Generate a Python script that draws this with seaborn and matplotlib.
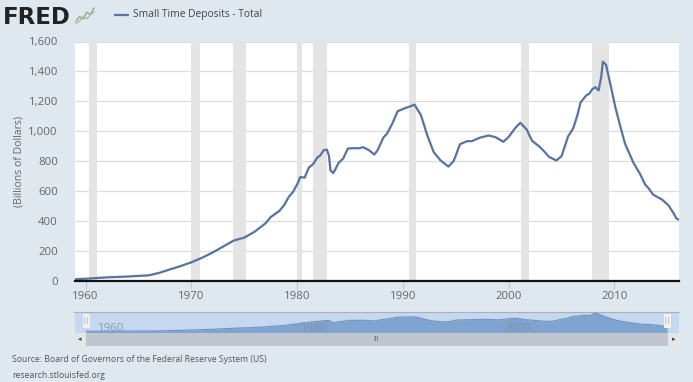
import matplotlib
matplotlib.use('Agg')
import matplotlib.pyplot as plt
import pandas as pd
import seaborn as sns
from matplotlib.patches import Rectangle

years = [1959, 1960, 1961, 1962, 1964, 1966, 1967, 1968, 1969, 1970, 1971, 1972, 1973, 1974, 1975,
         1976, 1977, 1977.5, 1978.3, 1978.75, 1979.2, 1979.6, 1980, 1980.3, 1980.7, 1981.1, 1981.5,
         1981.9, 1982.2, 1982.5, 1982.8, 1983, 1983.15, 1983.4, 1983.6, 1983.9, 1984.35, 1984.8,
         1985.2, 1985.85, 1986.25, 1986.8, 1987.3, 1987.6, 1988.15, 1988.5, 1989, 1989.5, 1990.1,
         1991, 1991.1, 1991.7, 1992.3, 1992.9, 1993.55, 1994.3, 1994.8, 1995.4, 1996.05, 1996.5,
         1997.3, 1998.1, 1998.75, 1999.5, 2000, 2000.65, 2001.1, 2001.7, 2002.2, 2002.85, 2003.3,
         2003.8, 2004.5, 2005, 2005.6, 2006.1, 2006.5, 2006.8, 2007.35, 2007.6, 2007.9, 2008.2,
         2008.5, 2008.75, 2008.9, 2009.2, 2009.55, 2010.1, 2010.55, 2011, 2011.8, 2012.45, 2012.9,
         2013.2, 2013.65, 2014.5, 2015.1, 2015.6, 2015.85, 2016.1]
deposits = [12, 15, 20, 24, 30, 38, 55, 78, 100, 125, 155, 190, 230, 270, 290,
            330, 385, 427, 467, 505, 561, 594, 646, 695, 690, 757, 780,
            824, 840, 873, 878, 840, 740, 721, 744, 788, 818, 885,
            887, 887, 894, 873, 845, 873, 958, 985, 1052, 1134, 1152,
            1175, 1178, 1108, 974, 862, 806, 764, 802, 914, 934, 934,
            958, 972, 961, 930, 963, 1025, 1057, 1012, 937, 901, 870,
            830, 805, 834, 964, 1020, 1109, 1194, 1241, 1250, 1281, 1295,
            1273, 1366, 1465, 1445, 1334, 1156, 1033, 917, 789, 711, 644,
            622, 577, 544, 506, 451, 418, 409]
rec_start = [1960.33, 1969.92, 1973.92, 1980.0, 1981.5, 1990.55, 2001.2, 2007.92]
rec_end = [1961.1, 1970.85, 1975.2, 1980.5, 1982.85, 1991.2, 2001.9, 2009.5]
y_ticks = [0, 200, 400, 600, 800, 1000, 1200, 1400, 1600]
x_ticks = [1960, 1970, 1980, 1990, 2000, 2010]
nav_labels = [1960, 1980, 2000]
logo_line_a = [1, 3, 2, 5, 4, 7]
logo_line_b = [0, 1, 3, 2, 4, 5]

W, H = 693, 382
BG = '#dfe7ef'
LINE = '#55749f'
GREY = '#666666'

sns.set_theme(style='white')
plt.rcParams['font.family'] = ['Open Sans', 'DejaVu Sans']
df = pd.DataFrame({'year': years, 'deposits': deposits})


def px_axes(left, top, right, bottom):
    return fig.add_axes([left / W, 1 - bottom / H, (right - left) / W, (bottom - top) / H])


def px_rect(left, top, right, bottom, color, **kw):
    fig.add_artist(Rectangle((left / W, 1 - bottom / H), (right - left) / W, (bottom - top) / H,
                             transform=fig.transFigure, facecolor=color, edgecolor='none', **kw))


def px_text(x, y, s, **kw):
    fig.text(x / W, 1 - y / H, s, **kw)


fig = plt.figure(figsize=(W / 100, H / 100), dpi=100, facecolor=BG)

# main chart
ax = px_axes(74.5, 41.5, 679, 281)
ax.set_facecolor('white')
for a, b in zip(rec_start, rec_end):
    ax.axvspan(a, b, color='#e4e4e4', lw=0, zorder=1)
ax.set_axisbelow(True)
ax.yaxis.grid(True, color='#dcdcdc', lw=0.9)
sns.lineplot(data=df, x='year', y='deposits', ax=ax, color=LINE, lw=1.6, zorder=3, legend=False)
ax.set_xlim(1958.95, 2016.1)
ax.set_ylim(0, 1600)
ax.set_xticks(x_ticks)
ax.set_yticks(y_ticks)
ax.set_yticklabels([f'{v:,}' for v in y_ticks])
ax.tick_params(axis='x', length=6, width=0.8, color='#c0c8d0', labelsize=8.2, labelcolor=GREY, pad=1, bottom=True)
ax.tick_params(axis='y', length=0, labelsize=8.2, labelcolor=GREY, pad=12)
ax.set_xlabel('')
ax.set_ylabel('(Billions of Dollars)', fontsize=7.6, color=GREY, labelpad=3)
for s in ['top', 'left', 'right']:
    ax.spines[s].set_visible(False)
ax.spines['bottom'].set_color('#111111')
ax.spines['bottom'].set_linewidth(1.6)
ax.spines['bottom'].set_zorder(5)

# navigator
nav = px_axes(74.5, 311.5, 679, 333)
nav.set_facecolor('#c6d8ef')
nav_pad_l = (86 - 74.5) / 10.17
nav_pad_r = (679 - 667) / 10.17
nav_floor = -130
nav.fill_between(years, deposits, nav_floor, color='#7fa4cf', lw=0, zorder=2)
sns.lineplot(data=df, x='year', y='deposits', ax=nav, color='#6e93c2', lw=0.8, zorder=3, legend=False)
nav.set_xlim(years[0] - nav_pad_l, years[-1] + nav_pad_r)
nav.set_ylim(nav_floor, 1600)
nav.set_xticks([])
nav.set_yticks([])
nav.set_xlabel('')
nav.set_ylabel('')
for s in ['left', 'right', 'bottom']:
    nav.spines[s].set_visible(False)
nav.spines['top'].set_color('#a8b0bb')
nav.spines['top'].set_linewidth(0.8)
for yr in nav_labels:
    nav.text(yr + 1.45, 0.22, str(yr), transform=nav.get_xaxis_transform(), ha='center', va='center',
             fontsize=8.2, color='#7e8ea5', alpha=0.85, zorder=5)

# scrollbar and handles
px_rect(74.5, 333, 679, 345.5, '#c0c6d0')
px_rect(74.5, 333, 86, 345.5, '#e6e6e6')
px_rect(667.5, 333, 679, 345.5, '#e6e6e6')
px_text(80, 339.5, '◂', fontsize=5, color='#444444', ha='center', va='center', family='DejaVu Sans')
px_text(673.5, 339.5, '▸', fontsize=5, color='#444444', ha='center', va='center', family='DejaVu Sans')
px_text(376.5, 339.3, 'III', fontsize=5, color='#666666', ha='center', va='center')
px_rect(82.5, 314, 89.5, 328, '#f0f0f0')
px_rect(663.5, 314, 670.5, 328, '#f0f0f0')
px_text(86, 321, '||', fontsize=5, color='#999999', ha='center', va='center')
px_text(667, 321, '||', fontsize=5, color='#999999', ha='center', va='center')

# header
px_text(3, 24.5, 'FRED', fontsize=16.5, fontweight='bold', family='DejaVu Sans', color='#222222',
        ha='left', va='baseline')
logo = px_axes(75, 7, 95, 24)
logo.patch.set_alpha(0)
logo.plot(logo_line_a, color='#8fa88a', lw=1)
logo.plot(logo_line_b, color='#a9b8a0', lw=1)
logo.axis('off')
fig.add_artist(plt.Line2D([114.5 / W, 128 / W], [1 - 15 / H, 1 - 15 / H], color=LINE, lw=1.6))
px_text(133, 15, 'Small Time Deposits - Total', fontsize=7.4, color='#444444', ha='left', va='center')

# footer
px_text(12, 360, 'Source: Board of Governors of the Federal Reserve System (US)', fontsize=6.25,
        color='#555555', ha='left', va='center')
px_text(12, 376, 'research.stlouisfed.org', fontsize=6.25, color='#555555', ha='left', va='center')

fig.savefig('out.png', dpi=100, facecolor=BG)
